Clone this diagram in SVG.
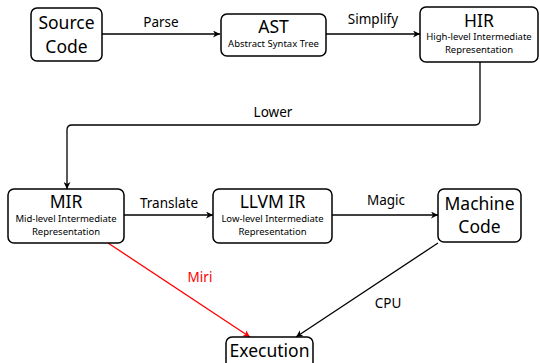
<svg xmlns="http://www.w3.org/2000/svg" width="540" height="363" viewBox="0 0 540 363">
<defs>
<marker id="ah" viewBox="0 0 10 10" refX="10" refY="5" markerWidth="7" markerHeight="7" markerUnits="userSpaceOnUse" orient="auto"><path d="M0,0 L10,5 L0,10 L3,5 Z" fill="#000"/></marker>
<marker id="ahr" viewBox="0 0 10 10" refX="10" refY="5" markerWidth="7" markerHeight="7" markerUnits="userSpaceOnUse" orient="auto"><path d="M0,0 L10,5 L0,10 L3,5 Z" fill="#f00"/></marker>
<style>
.box{fill:#fff;stroke:#000;stroke-width:1.5}
.t{font-family:"Noto Sans","Open Sans",sans-serif;font-size:17.5px;fill:#000;text-anchor:middle}
.s{font-family:"Noto Sans","Open Sans",sans-serif;font-size:9.5px;fill:#000;text-anchor:middle}
.l{font-family:"Noto Sans","Open Sans",sans-serif;font-size:13.5px;fill:#000;text-anchor:middle}
.c{fill:none;stroke:#000;stroke-width:1.3}
</style>
</defs>
<g id="connectors">
<line class="c" x1="102" y1="34" x2="220" y2="34" marker-end="url(#ah)"/>
<line class="c" x1="326" y1="34" x2="420" y2="34" marker-end="url(#ah)"/>
<path class="c" d="M480,62 V120 Q480,125 475,125 H72 Q67,125 67,130 V189" marker-end="url(#ah)"/>
<line class="c" x1="124" y1="215" x2="213" y2="215" marker-end="url(#ah)"/>
<line class="c" x1="332" y1="215" x2="438" y2="215" marker-end="url(#ah)"/>
<line x1="108" y1="243" x2="250" y2="337" stroke="#f00" stroke-width="1.3" marker-end="url(#ahr)"/>
<line class="c" x1="438" y1="243" x2="296" y2="337" marker-end="url(#ah)"/>
<text class="l" x="161" y="27">Parse</text>
<text class="l" x="373" y="24">Simplify</text>
<text class="l" x="273" y="117">Lower</text>
<text class="l" x="169" y="208">Translate</text>
<text class="l" x="386" y="205">Magic</text>
<text class="l" x="200" y="282" style="fill:#f00">Miri</text>
<text class="l" x="388" y="308">CPU</text>
</g>
<g id="source">
<rect class="box" x="31" y="8" width="71" height="53" rx="6"/>
<text class="t" x="66.5" y="29">Source</text>
<text class="t" x="66.5" y="53">Code</text>
</g>
<g id="ast">
<rect class="box" x="221" y="14" width="105" height="42" rx="6"/>
<text class="t" x="273.5" y="33">AST</text>
<text class="s" x="273.5" y="46.5">Abstract Syntax Tree</text>
</g>
<g id="hir">
<rect class="box" x="420" y="7" width="118" height="55" rx="6"/>
<text class="t" x="479" y="27">HIR</text>
<text class="s" x="479" y="40">High-level Intermediate</text>
<text class="s" x="479" y="52.5">Representation</text>
</g>
<g id="mir">
<rect class="box" x="8" y="189" width="116" height="54" rx="6"/>
<text class="t" x="66" y="208">MIR</text>
<text class="s" x="66" y="221.5">Mid-level Intermediate</text>
<text class="s" x="66" y="234.5">Representation</text>
</g>
<g id="llvm">
<rect class="box" x="213" y="189" width="119" height="54" rx="6"/>
<text class="t" x="272.5" y="208">LLVM IR</text>
<text class="s" x="272.5" y="221.5">Low-level Intermediate</text>
<text class="s" x="272.5" y="234.5">Representation</text>
</g>
<g id="machine">
<rect class="box" x="438" y="189" width="83" height="53" rx="6"/>
<text class="t" x="479.5" y="210">Machine</text>
<text class="t" x="479.5" y="233">Code</text>
</g>
<g id="execution">
<rect class="box" x="226" y="337" width="87" height="40" rx="6"/>
<text class="t" x="269.5" y="357">Execution</text>
</g>
</svg>
